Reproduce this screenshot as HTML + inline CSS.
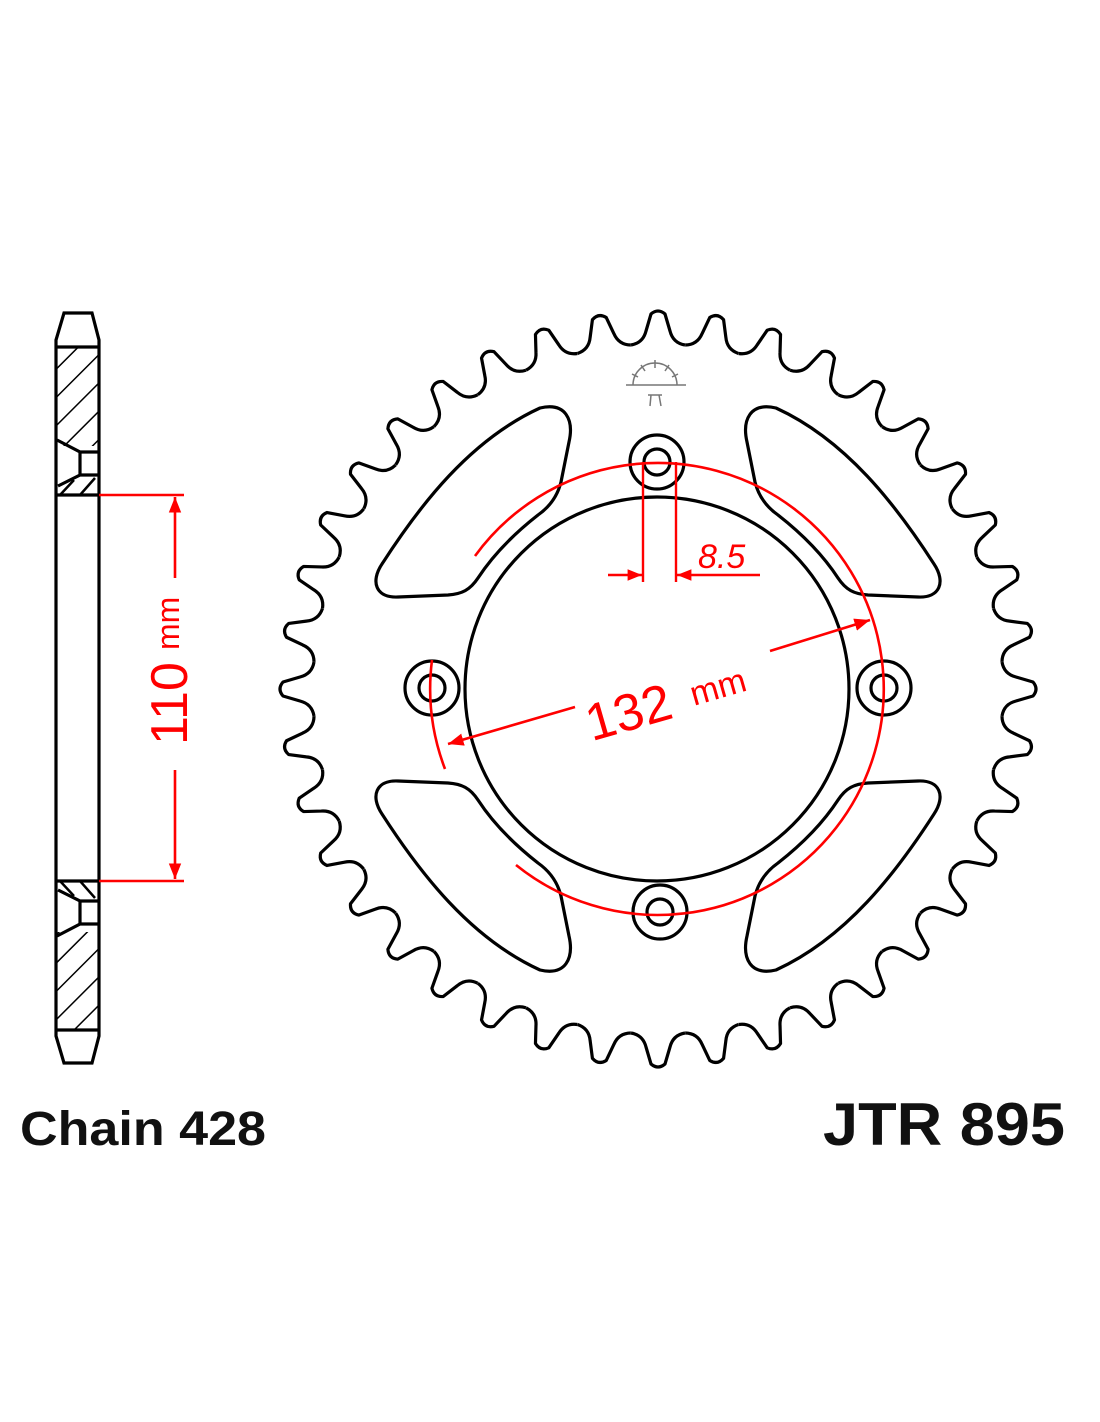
<!DOCTYPE html>
<html><head><meta charset="utf-8"><style>
html,body{margin:0;padding:0;background:#fff;}
svg{display:block;}
</style></head><body>
<svg width="1100" height="1422" viewBox="0 0 1100 1422" xmlns="http://www.w3.org/2000/svg">
<defs>
  <path id="tooth" d="M -27,-344 Q -15,-346 -12,-358 L -7,-375 Q 0,-381 7,-375 L 12,-358 Q 15,-346 27,-344" fill="none" stroke="#000" stroke-width="3.2" stroke-linejoin="round"/>
  <path id="win" d="M 540,408 C 566,402 574,420 569,442 L 561,482 C 557,498 548,508 538,515 C 515,533 493,555 478,578 C 470,590 462,594 448,595 L 398,597 C 376,598 370,582 382,564 C 420,505 470,440 540,408 Z" fill="none" stroke="#000" stroke-width="3.2"/>
  <pattern id="hatch" width="20" height="20" patternUnits="userSpaceOnUse" patternTransform="rotate(45)">
    <line x1="0" y1="0" x2="0" y2="20" stroke="#000" stroke-width="3"/>
  </pattern>
  <marker id="ar" viewBox="0 0 10 10" refX="10" refY="5" markerWidth="6" markerHeight="6" orient="auto-start-reverse">
    <path d="M0,1 L10,5 L0,9 Z" fill="#f00"/>
  </marker>
</defs>

<!-- Sprocket teeth -->
<g transform="translate(658,689)">
  <use href="#tooth" transform="rotate(0)"/><use href="#tooth" transform="rotate(9)"/><use href="#tooth" transform="rotate(18)"/><use href="#tooth" transform="rotate(27)"/><use href="#tooth" transform="rotate(36)"/><use href="#tooth" transform="rotate(45)"/><use href="#tooth" transform="rotate(54)"/><use href="#tooth" transform="rotate(63)"/><use href="#tooth" transform="rotate(72)"/><use href="#tooth" transform="rotate(81)"/>
  <use href="#tooth" transform="rotate(90)"/><use href="#tooth" transform="rotate(99)"/><use href="#tooth" transform="rotate(108)"/><use href="#tooth" transform="rotate(117)"/><use href="#tooth" transform="rotate(126)"/><use href="#tooth" transform="rotate(135)"/><use href="#tooth" transform="rotate(144)"/><use href="#tooth" transform="rotate(153)"/><use href="#tooth" transform="rotate(162)"/><use href="#tooth" transform="rotate(171)"/>
  <use href="#tooth" transform="rotate(180)"/><use href="#tooth" transform="rotate(189)"/><use href="#tooth" transform="rotate(198)"/><use href="#tooth" transform="rotate(207)"/><use href="#tooth" transform="rotate(216)"/><use href="#tooth" transform="rotate(225)"/><use href="#tooth" transform="rotate(234)"/><use href="#tooth" transform="rotate(243)"/><use href="#tooth" transform="rotate(252)"/><use href="#tooth" transform="rotate(261)"/>
  <use href="#tooth" transform="rotate(270)"/><use href="#tooth" transform="rotate(279)"/><use href="#tooth" transform="rotate(288)"/><use href="#tooth" transform="rotate(297)"/><use href="#tooth" transform="rotate(306)"/><use href="#tooth" transform="rotate(315)"/><use href="#tooth" transform="rotate(324)"/><use href="#tooth" transform="rotate(333)"/><use href="#tooth" transform="rotate(342)"/><use href="#tooth" transform="rotate(351)"/>
</g>

<!-- windows -->
<use href="#win"/>
<use href="#win" transform="translate(1316,0) scale(-1,1)"/>
<use href="#win" transform="translate(0,1378) scale(1,-1)"/>
<use href="#win" transform="translate(1316,1378) scale(-1,-1)"/>

<!-- inner circle -->
<circle cx="657" cy="689" r="192" fill="none" stroke="#000" stroke-width="3.2"/>

<!-- bolt holes -->
<g fill="none" stroke="#000" stroke-width="3.2">
  <circle cx="657" cy="462" r="27"/><circle cx="657" cy="462" r="13"/>
  <circle cx="432" cy="688" r="27"/><circle cx="432" cy="688" r="13"/>
  <circle cx="884" cy="688" r="27"/><circle cx="884" cy="688" r="13"/>
  <circle cx="660" cy="912" r="27"/><circle cx="660" cy="912" r="13"/>
</g>

<!-- logo -->
<g stroke="#777" stroke-width="1.5" fill="none">
  <path d="M 633,385 A 22,22 0 0 1 677,385"/>
  <line x1="626" y1="385" x2="686" y2="385"/>
  <line x1="655" y1="360" x2="655" y2="368"/><line x1="641" y1="365" x2="645" y2="371"/><line x1="669" y1="365" x2="665" y2="371"/>
  <line x1="632" y1="374" x2="638" y2="377"/><line x1="678" y1="374" x2="672" y2="377"/>
  <path d="M 648,395 L 662,395 M 651,395 L 650,406 M 659,395 L 661,406"/>
</g>

<!-- red bolt circle arcs -->
<g fill="none" stroke="#f00" stroke-width="2.6">
  <path d="M 475,556 A 226,226 0 1 1 516,865"/>
  <path d="M 432,660 A 226,226 0 0 0 445,769"/>
</g>

<!-- 8.5 dimension -->
<g stroke="#f00" stroke-width="2.4" fill="none">
  <line x1="643" y1="462" x2="643" y2="582"/>
  <line x1="676" y1="462" x2="676" y2="582"/>
  <line x1="608" y1="575" x2="642" y2="575" marker-end="url(#ar)"/>
  <line x1="760" y1="575" x2="677" y2="575" marker-end="url(#ar)"/>
</g>
<text x="698" y="568" font-family="Liberation Sans, sans-serif" font-size="34" font-style="italic" fill="#f00">8.5</text>

<!-- 132 dimension -->
<g stroke="#f00" stroke-width="2.6" fill="none">
  <line x1="575" y1="707" x2="448" y2="744" marker-end="url(#ar)"/>
  <line x1="770" y1="651" x2="870" y2="620" marker-end="url(#ar)"/>
</g>
<g transform="rotate(-16 670 695)" fill="#f00" font-family="Liberation Sans, sans-serif">
  <text x="582" y="718" font-size="52">132</text>
  <text x="690" y="712" font-size="34">mm</text>
</g>

<!-- side view -->
<g stroke="#000" stroke-width="3.2" fill="none">
  <rect x="56" y="348" width="43" height="98" fill="url(#hatch)" stroke="none"/>
  <rect x="56" y="932" width="43" height="98" fill="url(#hatch)" stroke="none"/>
  <path d="M 64,313 L 92,313 L 99,340 L 99,1036 L 92,1063 L 64,1063 L 56,1036 L 56,340 Z" fill="none"/>
  <line x1="56" y1="347" x2="99" y2="347"/>
  <line x1="56" y1="1030" x2="99" y2="1030"/>
  <line x1="56" y1="495" x2="99" y2="495"/>
  <line x1="56" y1="881" x2="99" y2="881"/>
  <path d="M 57,440 L 80,452 L 80,475 L 58,486 M 80,452 L 99,452 M 80,475 L 99,475"/>
  <path d="M 57,936 L 80,924 L 80,901 L 58,890 M 80,924 L 99,924 M 80,901 L 99,901"/>
  <path d="M 60,495 L 74,480 M 80,495 L 95,478" stroke-width="2.5"/>
  <path d="M 60,881 L 74,896 M 80,881 L 95,898" stroke-width="2.5"/>
</g>

<!-- 110 dimension -->
<g stroke="#f00" stroke-width="2.6" fill="none">
  <line x1="99" y1="495" x2="184" y2="495"/>
  <line x1="99" y1="881" x2="184" y2="881"/>
  <line x1="175" y1="578" x2="175" y2="497" marker-end="url(#ar)"/>
  <line x1="175" y1="770" x2="175" y2="879" marker-end="url(#ar)"/>
</g>
<g transform="rotate(-90 170 675)" fill="#f00" font-family="Liberation Sans, sans-serif">
  <text x="100" y="692" font-size="52">110</text>
  <text x="195" y="684" font-size="32">mm</text>
</g>

<!-- labels -->
<text x="20" y="1145" font-family="Liberation Sans, sans-serif" font-weight="bold" font-size="48" textLength="246" lengthAdjust="spacingAndGlyphs" fill="#111">Chain 428</text>
<text x="823" y="1145" font-family="Liberation Sans, sans-serif" font-weight="bold" font-size="60" textLength="242" lengthAdjust="spacingAndGlyphs" fill="#111">JTR 895</text>
</svg>
</body></html>
